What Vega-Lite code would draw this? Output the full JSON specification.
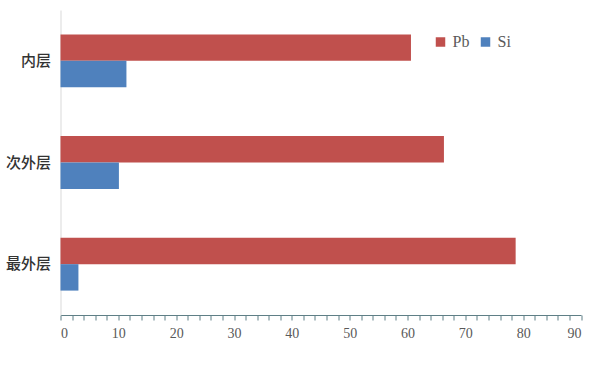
{
  "$schema": "https://vega.github.io/schema/vega-lite/v6.json",
  "width": 520.5,
  "height": 305,
  "autosize": "none",
  "padding": {"left": 60.5, "top": 10, "right": 21, "bottom": 70},
  "background": "white",
  "data": {
    "values": [
      {"layer": "内层", "element": "Pb", "value": 60.6},
      {"layer": "内层", "element": "Si", "value": 11.4},
      {"layer": "次外层", "element": "Pb", "value": 66.3},
      {"layer": "次外层", "element": "Si", "value": 10.1},
      {"layer": "最外层", "element": "Pb", "value": 78.7},
      {"layer": "最外层", "element": "Si", "value": 3.1}
    ]
  },
  "config": {
    "view": {"stroke": null},
    "axis": {"grid": false}
  },
  "mark": {"type": "bar"},
  "encoding": {
    "y": {
      "field": "layer",
      "type": "nominal",
      "sort": ["内层", "次外层", "最外层"],
      "title": null,
      "scale": {"paddingInner": 0.48, "paddingOuter": 0.24},
      "axis": {
        "ticks": false,
        "domainColor": "#d9d9d9",
        "labelFont": "Noto Sans CJK SC",
        "labelFontSize": 15,
        "labelFontWeight": 500,
        "labelColor": "#333333",
        "labelPadding": 10
      }
    },
    "yOffset": {
      "field": "element",
      "type": "nominal",
      "sort": ["Pb", "Si"],
      "scale": {"paddingInner": 0, "paddingOuter": 0}
    },
    "x": {
      "field": "value",
      "type": "quantitative",
      "title": null,
      "scale": {"domain": [0, 90], "nice": false},
      "axis": {
        "values": [0,2,4,6,8,10,12,14,16,18,20,22,24,26,28,30,32,34,36,38,40,42,44,46,48,50,52,54,56,58,60,62,64,66,68,70,72,74,76,78,80,82,84,86,88,90],
        "labelExpr": "datum.value % 10 === 0 ? datum.label : ''",
        "domainColor": "#5f7f86",
        "tickColor": "#5f7f86",
        "tickSize": 5,
        "labelFont": "Liberation Serif",
        "labelFontSize": 14,
        "labelColor": "#595959",
        "labelPadding": 6
      }
    },
    "color": {
      "field": "element",
      "type": "nominal",
      "sort": ["Pb", "Si"],
      "scale": {"domain": ["Pb", "Si"], "range": ["#C0504D", "#4F81BD"]},
      "legend": {
        "title": null,
        "orient": "none",
        "legendX": 372,
        "legendY": 24,
        "direction": "horizontal",
        "symbolType": "square",
        "symbolSize": 90,
        "symbolStrokeWidth": 0,
        "labelFont": "Liberation Serif",
        "labelFontSize": 16,
        "labelColor": "#595959",
        "columnPadding": 8,
        "labelOffset": 4
      }
    }
  }
}
